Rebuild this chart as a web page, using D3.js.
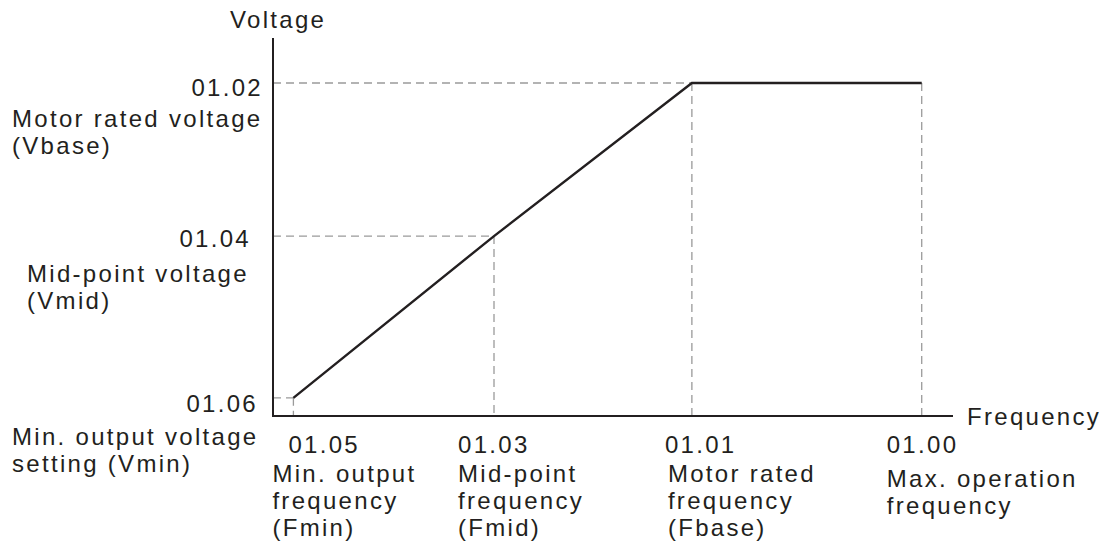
<!DOCTYPE html>
<html>
<head>
<meta charset="utf-8">
<script src="https://cdn.jsdelivr.net/npm/d3@7"></script>
<style>
  html, body { margin: 0; padding: 0; background: #fff; }
  svg text { font-family: "Liberation Sans", Arial, sans-serif; fill: #231f20; }
</style>
</head>
<body>
<svg id="chart" width="1112" height="546"></svg>
<script>
// ---- data ----
const pointNames = ["Fmin", "Fmid", "Fbase", "Fmax"];
const frequencyValues = [3, 32.5, 61.6, 95.4];      // relative frequency (0-100)
const voltageValues = [4.8, 47.6, 88.1, 88.1];      // relative voltage (0-100)
const freqCodes = ["01.05", "01.03", "01.01", "01.00"];
const freqLabels = [
  ["Min. output", "frequency", "(Fmin)"],
  ["Mid-point", "frequency", "(Fmid)"],
  ["Motor rated", "frequency", "(Fbase)"],
  ["Max. operation", "frequency"]
];
const voltCodes = ["01.06", "01.04", "01.02"];
const voltLevels = [4.8, 47.6, 88.1];
const voltLabels = [
  ["Min. output voltage", "setting (Vmin)"],
  ["Mid-point voltage", "(Vmid)"],
  ["Motor rated voltage", "(Vbase)"]
];
const axisTitles = { x: "Frequency", y: "Voltage" };

// ---- layout ----
const svg = d3.select("#chart");
const x = d3.scaleLinear().domain([0, 100]).range([273, 953]);
const y = d3.scaleLinear().domain([0, 100]).range([416, 38]);
const fontSize = 24, spacing = "2.3px", lineH = 27;
const ink = "#231f20", dash = "#9a9a9a";

const pts = frequencyValues.map((f, i) => ({ f, v: voltageValues[i] }));

// dashed guides
const g = svg.append("g").attr("stroke", dash).attr("stroke-width", 1.3)
  .attr("stroke-dasharray", "8,5").attr("fill", "none");
[0, 1, 2].forEach(i => {
  g.append("line").attr("x1", x(0)).attr("x2", x(pts[i].f))
    .attr("y1", y(pts[i].v)).attr("y2", y(pts[i].v));
});
pts.forEach(p => {
  g.append("line").attr("x1", x(p.f)).attr("x2", x(p.f))
    .attr("y1", y(p.v)).attr("y2", y(0));
});

// main curve
svg.append("path").datum(pts)
  .attr("fill", "none").attr("stroke", ink).attr("stroke-width", 2.4)
  .attr("stroke-linejoin", "miter")
  .attr("d", d3.line().x(d => x(d.f)).y(d => y(d.v)));

// axes (no ticks)
svg.append("line").attr("x1", x(0)).attr("x2", x(0)).attr("y1", y(100)).attr("y2", y(0))
  .attr("stroke", ink).attr("stroke-width", 2);
svg.append("line").attr("x1", x(0) - 1).attr("x2", x(100)).attr("y1", y(0)).attr("y2", y(0))
  .attr("stroke", ink).attr("stroke-width", 2);

function txt(tx, ty, s, anchor) {
  return svg.append("text").attr("x", tx).attr("y", ty)
    .attr("font-size", fontSize).attr("letter-spacing", spacing)
    .attr("text-anchor", anchor || "start").text(s);
}

// axis titles
txt(230, 28, axisTitles.y);
txt(967, 425, axisTitles.x);

// voltage labels
const vCodeRight = [258, 251, 263];
const vCodeDy = [14, 11, 13];
const vLabelLeft = [12, 27, 12];
const vLabelDy = [47, 46, 44];
voltLevels.forEach((v, i) => {
  txt(vCodeRight[i], y(v) + vCodeDy[i], voltCodes[i], "end");
  voltLabels[i].forEach((s, k) => {
    txt(vLabelLeft[i], y(v) + vLabelDy[i] + k * lineH, s);
  });
});

// frequency labels
const fCodeDx = [-5, -36, -27, -35];
const fLabelDx = [-21, -36, -24, -35];
const fLabelBase = [482, 482, 482, 487];
frequencyValues.forEach((f, i) => {
  txt(x(f) + fCodeDx[i], 453, freqCodes[i]);
  freqLabels[i].forEach((s, k) => {
    txt(x(f) + fLabelDx[i], fLabelBase[i] + k * lineH, s);
  });
});
</script>
</body>
</html>
